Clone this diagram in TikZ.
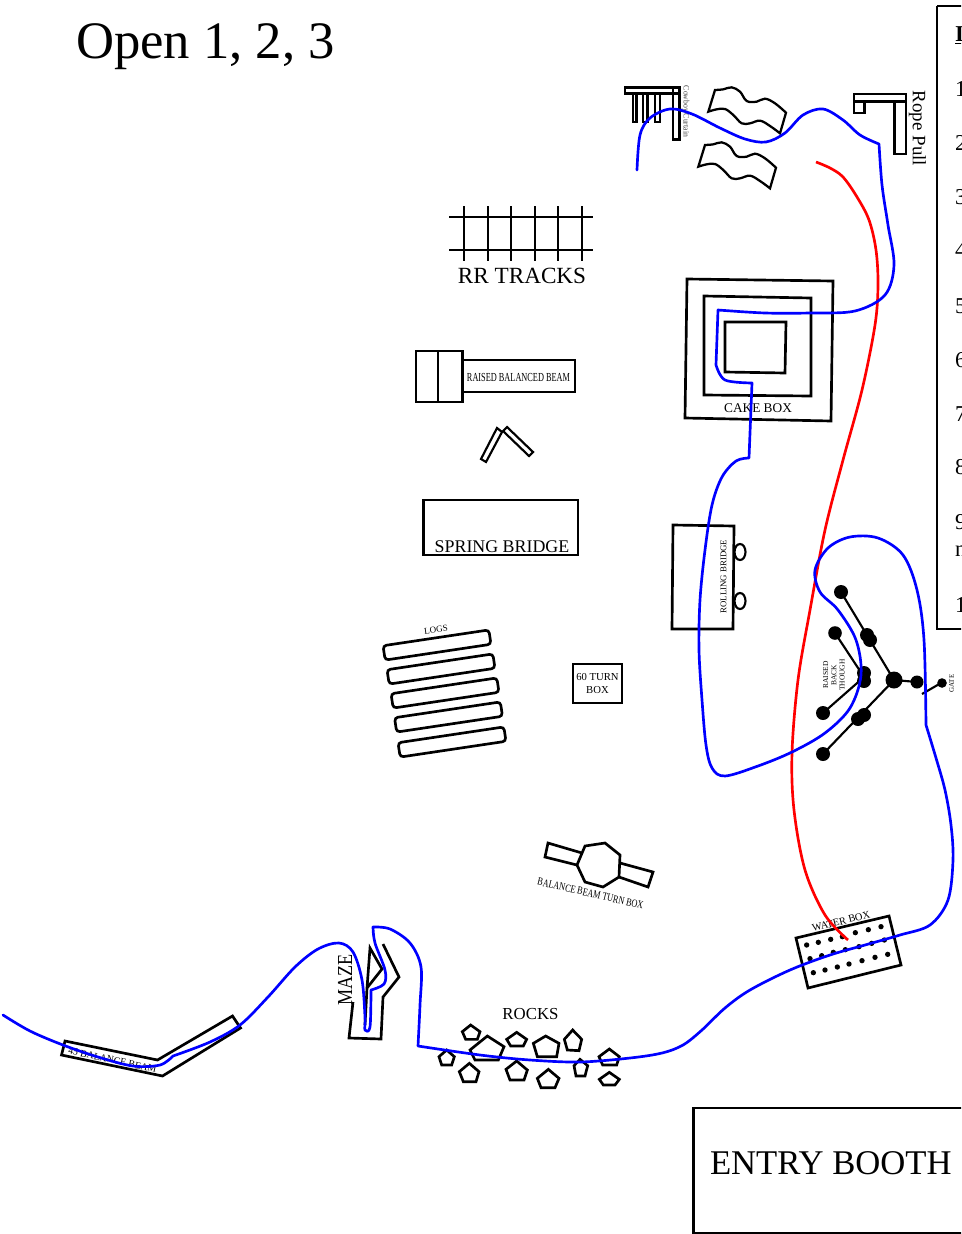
\documentclass[tikz,border=0pt]{standalone}
\usepackage{fontspec}
\setmainfont{Liberation Serif}
\newcommand{\fsz}[2]{\fontsize{#1}{#2}\selectfont}
\tikzset{
  ln/.style={draw=black,line width=2pt,line join=miter},
  route/.style={draw=blue,line width=2pt,line join=round,line cap=round},
  redroute/.style={draw=red,line width=2pt,line join=round},
  lbl/.style={inner sep=0pt,outer sep=0pt,align=center,text=black},
  dot/.style={fill=black,draw=none},
  logbar/.style={draw=black,line width=2pt,rounded corners=2.5pt,rotate=8.5,minimum width=107pt*0.75,minimum height=14.5pt*0.75,inner sep=0pt},
}
\begin{document}
\begin{tikzpicture}[x=0.75pt,y=-0.75pt]
\useasboundingbox (0,0) rectangle (961,1234);
% title
\node[lbl,anchor=west,font=\fsz{39.5}{44}] (title) at (76,47) {Open 1, 2, 3};
% legend
\begin{scope}
\clip (930,0) rectangle (961,640);
\draw[ln] (937,6) -- (980,6) (937,6) -- (937,629) -- (980,629);
\foreach \n/\t/\y in {a/1/89,b/2/143,c/3/197,d/4/250,e/5/306,f/6/360,g/7/414,h/8/467,i/9/522,j/n/551,k/1/605}
  \node[lbl,anchor=west,font=\fsz{17}{19}] (leg\n) at (955,\y) {\t};
\node[lbl,anchor=west,font=\bfseries\fsz{17}{19}] (leghead) at (955,35) {\underline{I}};
\end{scope}
% cowboy curtain
\draw[ln] (625,87.5) rectangle (680,93.5);
\draw[ln] (673,87.5) rectangle (679.5,139.5);
\draw[ln] (633,93.5) rectangle (636.5,122);
\draw[ln] (643,93.5) rectangle (647.5,122);
\draw[ln] (655,93.5) rectangle (660,122);
\node[lbl,rotate=-90,font=\fsz{6.2}{7},text=black!75] (curtain) at (685.5,111.5) {\scalebox{.93}[1]{Cowboy Curtain}};
% waves
\begin{scope}[shift={(600,0)},x=0.25pt,y=-0.25pt]
\foreach \sx/\sy in {0/0,-30/165}
\draw[ln,line width=1.7pt,xshift=\sx*0.25pt,yshift=-\sy*0.25pt]
  plot[smooth,tension=0.6] coordinates {(345,270) (370,268) (395,262) (420,275) (440,303) (470,305) (495,296) (525,310) (558,338)}
  -- (540,400)
  -- plot[smooth,tension=0.6] coordinates {(540,400) (510,378) (480,362) (450,370) (425,370) (400,345) (375,327) (350,328) (325,335)}
  -- cycle;
\end{scope}
% rope pull
\draw[ln] (854,94) rectangle (906,101.5);
\draw[ln] (894.5,101.5) rectangle (906,154);
\draw[ln] (854,101.5) rectangle (864.5,113);
\node[lbl,rotate=-90,font=\fsz{14.2}{16}] (rope) at (917.5,128.5) {Rope Pull};
% RR tracks
\draw[ln,line width=1.6pt] (449,217) -- (593,217) (449,250) -- (593,250);
\foreach \x in {464,488,511,535,558,582} \draw[ln,line width=1.6pt] (\x,206) -- (\x,261);
\node[lbl,font=\fsz{17.4}{19}] (rr) at (522,276) {RR TRACKS};
% cake box
\draw[ln] (687,279) -- (833,281) -- (831,421) -- (685,418) -- cycle;
\draw[ln] (704,296) -- (811,298) -- (811,396) -- (704,395) -- cycle;
\draw[ln] (725,322) -- (786,322) -- (785,373) -- (725,372) -- cycle;
\node[lbl,font=\fsz{10}{12}] (cake) at (758,408) {CAKE BOX};
% raised balanced beam
\draw[ln] (416,351) rectangle (462.5,402);
\draw[ln] (438,351) -- (438,402);
\draw[ln] (462.5,360) rectangle (575,392);
\node[lbl,font=\fsz{9.2}{10}] (rbb) at (518.5,377) {\scalebox{.675}[1]{RAISED BALANCED BEAM}};
% bent pair
\draw[ln,line width=1.6pt] (497,428) -- (502,432) -- (486,462) -- (481,459) -- cycle;
\draw[ln,line width=1.6pt] (507,427) -- (533,452) -- (529,456) -- (503,431) -- cycle;
% spring bridge
\draw[ln] (423.5,500) rectangle (578,555);
\node[lbl,font=\fsz{13.4}{15}] (spring) at (502,546.5) {SPRING BRIDGE};
% rolling bridge
\draw[ln] (673,525) -- (734,526) -- (733,629) -- (672,629) -- cycle;
\draw[ln,line width=1.6pt] (740,552) ellipse [x radius=5.5,y radius=8];
\draw[ln,line width=1.6pt] (740,601) ellipse [x radius=5.5,y radius=8];
\node[lbl,rotate=90,font=\fsz{6.6}{8}] (rolling) at (723.5,576.5) {ROLLING BRIDGE};
% logs
\node[logbar] (log1) at (437,645) {};
\node[logbar] (log2) at (441,669) {};
\node[logbar] (log3) at (445,693) {};
\node[logbar] (log4) at (448.5,717) {};
\node[logbar] (log5) at (452,742) {};
\node[lbl,rotate=8,font=\fsz{6.8}{8}] (logs) at (436,629.5) {LOGS};
% 60 turn box
\node[draw=black,line width=2pt,minimum width=49*0.75pt,minimum height=39*0.75pt,inner sep=0pt,align=center,font=\fsz{8}{9.3}] (turn60) at (597.5,683.5) {60 TURN\\BOX};
% balance beam turn box
\draw[ln] (585,846) -- (605,843) -- (620,855) -- (619,877) -- (603,887) -- (585,882) -- (577,865) -- cycle;
\draw[ln] (582,853) -- (548,843) -- (545,857) -- (577,865);
\draw[ln] (620,863) -- (653,872) -- (648,887) -- (619,877);
\node[lbl,rotate=-13,font=\fsz{8.2}{9}] (bbtb) at (590.5,893.5) {\scalebox{.75}[1]{BALANCE BEAM TURN BOX}};
% raised back through
\draw[ln,line width=1.6pt] (841,592) -- (894,680);
\draw[ln,line width=1.6pt] (835,633) -- (864,677) -- (823,713);
\draw[ln,line width=1.6pt] (823,754) -- (894,680) -- (917,682);
\draw[ln,line width=1.6pt] (941,683) -- (922,694);
\foreach \x/\y/\r in {841/592/7,867/635/7,870/640/7,835/633/6.8,864/673/7,864/681/7,823/713/7,894/680/8.5,917/682/6.5,858/719/7,864/715/7,823/754/7,942/683/4.8}
  \fill[dot] (\x,\y) circle [radius=\r];
\node[lbl,rotate=90,font=\fsz{5.6}{6.2}] (through) at (834,675) {RAISED\\BACK\\THOUGH};
\node[lbl,rotate=90,font=\fsz{5.2}{6}] (gate) at (951.5,683.5) {GATE};
% water box
\draw[ln] (796,938) -- (889,916) -- (901,965) -- (808,988) -- cycle;
\node[lbl,rotate=14,font=\fsz{7.8}{9}] (water) at (841,921.5) {WATER BOX};
\begin{scope}[shift={(780,900)},x=0.25pt,y=-0.25pt]
\foreach \x/\y in {80/135,115/127,152/118,187/110,226/98,265/89,303/80,90/176,125/167,160/157,196/149,237/140,275/130,313/120,100/218,135/210,172/201,207/192,246/182,285/172,323/163}
  \fill[dot] (\x,\y) circle [radius=8];
\end{scope}
% rocks
\node[lbl,font=\fsz{12.6}{14}] (rocks) at (530.5,1014.5) {ROCKS};
\begin{scope}[shift={(430,1000)},x=0.25pt,y=-0.25pt]
\foreach \c in {
 {(122,75) -- (150,95) -- (142,118) -- (107,118) -- (97,95)},
 {(172,108) -- (222,140) -- (205,180) -- (135,180) -- (120,150)},
 {(260,97) -- (290,118) -- (280,138) -- (242,138) -- (230,118)},
 {(347,108) -- (387,130) -- (380,170) -- (322,170) -- (310,130)},
 {(428,90) -- (455,118) -- (447,152) -- (412,150) -- (403,118)},
 {(50,150) -- (73,170) -- (65,195) -- (35,195) -- (27,170)},
 {(118,190) -- (147,215) -- (138,245) -- (100,245) -- (88,215)},
 {(260,183) -- (292,210) -- (282,240) -- (240,240) -- (228,208)},
 {(355,208) -- (387,235) -- (375,263) -- (333,263) -- (322,235)},
 {(450,178) -- (473,197) -- (465,228) -- (438,228) -- (432,197)},
 {(538,147) -- (568,170) -- (560,195) -- (518,195) -- (507,170)},
 {(538,217) -- (568,238) -- (555,255) -- (520,255) -- (508,238)}}
 {\draw[ln] \c -- cycle;}
\end{scope}
% 45 balance beam
\draw[ln] (65,1041) -- (157.5,1060) -- (232.5,1016) -- (240.5,1028) -- (162.5,1076) -- (61.5,1055) -- cycle;
\node[lbl,rotate=-12.5,font=\fsz{7.4}{9}] (beam45) at (112.5,1060) {45 BALANCE BEAM};
% maze
\draw[ln] (353,1002) -- (349,1038) -- (381,1039) -- (383,997) -- (399,977) -- (383,944);
\draw[ln] (365,1025) -- (367,988) -- (370,948) -- (382,969) -- (367,988);
\node[lbl,rotate=90,font=\fsz{16}{18}] (maze) at (345,980) {\scalebox{.85}[1]{MAZE}};
% entry booth
\begin{scope}
\clip (680,1100) rectangle (961,1234);
\draw[ln] (980,1108) -- (693.5,1108) -- (693.5,1233) -- (980,1233);
\end{scope}
\node[lbl,anchor=west,font=\fsz{26}{29}] (entry) at (710,1163) {ENTRY BOOTH};
% red route
\draw[redroute] plot[smooth,tension=0.55] coordinates {(816,162) (830,168) (843,177) (857,197) (869,220) (876,250) (878,285) (875,325) (862,390) (843,460) (825,530) (810,610) (798,680) (792,753) (794,810) (805,870) (825,915) (848,940)};
% blue route
\draw[route]
 plot[smooth,tension=0.55] coordinates {(637,170) (640,135) (650,118) (670,109) (692,114) (720,128) (745,139) (766,142) (785,133) (803,115) (823,109) (843,120) (860,135) (879,144)}
 -- plot[smooth,tension=0.55] coordinates {(879,144) (882,185) (888,225) (894,265) (885,295) (855,311) (810,313) (765,313) (718,310)}
 -- (716,365) -- plot[smooth,tension=0.55] coordinates {(716,365) (725,380) (752,383)}
 -- (749,458)
 -- plot[smooth,tension=0.55] coordinates {(749,458) (736,461) (722,477) (712,505) (705,550) (700,600) (699,650) (702,700) (706,745) (712,768) (725,776) (758,766) (792,752) (825,733) (850,708) (861,675) (856,640) (838,610) (820,592) (815,570) (828,548) (850,537) (878,538) (903,555) (917,590) (924,640) (926,725)}
 -- plot[smooth,tension=0.55] coordinates {(926,725) (936,758) (945,790) (951,825) (953,860) (948,900) (930,925) (900,935) (865,945) (830,955) (790,970) (750,990) (725,1008) (702,1030) (683,1045) (662,1053) (630,1058) (580,1062) (530,1060) (480,1055) (418,1046)}
 -- plot[smooth,tension=0.55] coordinates {(418,1046) (420,1005) (421,967) (410,943) (390,929) (373,927)}
 -- plot[smooth,tension=0.55] coordinates {(373,927) (375,943) (385,970) (384,984) (371,990)}
 -- plot[smooth,tension=0.55] coordinates {(371,990) (370,1027) (365,1030) (365,1017) (362,980) (353,952) (339,943) (318,949) (295,967) (268,997) (240,1025) (210,1042) (173,1056)}
 -- plot[smooth,tension=0.55] coordinates {(173,1056) (160,1065) (133,1066) (98,1057) (63,1045) (30,1031) (3,1015)};
\end{tikzpicture}
\end{document}
